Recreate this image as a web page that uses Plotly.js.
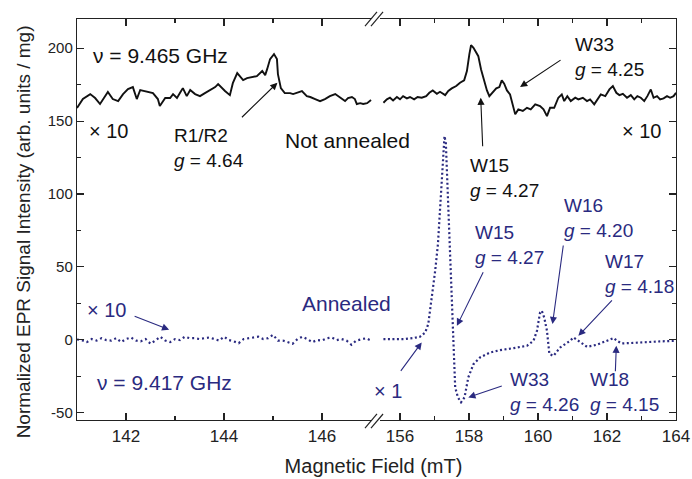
<!DOCTYPE html>
<html>
<head>
<meta charset="utf-8">
<script src="https://cdn.plot.ly/plotly-3.0.1.min.js"></script>
<style>html,body{margin:0;padding:0;background:#fff;}#chart{width:692px;height:479px;}</style>
</head>
<body>
<div id="chart"></div>
<script>
// ---------- DATA ----------
// Not annealed (x10), low-field part
const fieldNotAnnLow = [141.00,141.12,141.27,141.37,141.47,141.57,141.63,141.73,141.84,141.94,142.04,142.14,142.22,142.29,142.43,142.55,142.65,142.69,142.80,142.90,142.96,143.04,143.10,143.16,143.24,143.31,143.41,143.51,143.61,143.71,143.82,143.88,143.96,144.02,144.12,144.18,144.27,144.33,144.39,144.47,144.57,144.67,144.78,144.84,144.88,144.94,145.02,145.08,145.10,145.16,145.24,145.35,145.41,145.51,145.59,145.69,145.76,145.86,145.96,146.06,146.16,146.27,146.33,146.41,146.47,146.53,146.61,146.67,146.71,146.78,146.84,146.92,147.00];
const signalNotAnnLow = [158.9,165.1,168.5,165.8,161.7,167.1,169.9,165.1,163.7,168.5,171.9,173.3,165.1,171.3,169.9,169.2,165.1,160.3,165.8,165.8,168.5,165.8,169.2,172.6,167.1,171.3,168.5,167.1,169.2,171.3,173.3,175.4,172.6,170.6,167.8,176.0,182.9,180.8,178.1,179.5,180.2,180.8,184.3,181.5,185.6,192.5,195.9,192.5,182.2,172.6,169.2,169.2,168.5,169.9,170.6,167.1,166.5,165.1,163.7,165.1,167.1,168.5,167.1,165.1,163.7,165.8,166.5,165.1,161.7,162.3,161.7,162.3,164.4];
// Not annealed (x10), high-field part
const fieldNotAnnHigh = [155.52,155.62,155.71,155.80,155.91,156.00,156.09,156.20,156.29,156.41,156.51,156.63,156.76,156.85,156.95,157.07,157.16,157.31,157.40,157.50,157.63,157.74,157.86,157.94,158.01,158.06,158.13,158.21,158.27,158.35,158.44,158.52,158.59,158.69,158.79,158.88,158.95,159.02,159.10,159.19,159.27,159.34,159.43,159.56,159.68,159.79,159.92,160.06,160.16,160.26,160.35,160.47,160.59,160.69,160.76,160.85,160.95,161.08,161.17,161.30,161.42,161.51,161.63,161.72,161.82,161.95,162.07,162.17,162.27,162.36,162.46,162.58,162.69,162.79,162.88,162.98,163.08,163.17,163.27,163.35,163.45,163.54,163.64,163.74,163.83,163.93,164.00];
const signalNotAnnHigh = [162.6,164.9,166.0,164.2,166.5,164.9,167.1,165.6,166.5,164.9,166.5,166.0,167.1,169.4,171.0,168.7,170.1,167.8,170.6,172.4,174.0,176.3,177.9,184.3,195.7,202.1,200.2,196.8,194.5,185.4,177.4,171.0,167.1,170.1,172.4,173.3,177.9,175.6,171.0,168.3,161.5,154.6,158.0,156.9,159.1,158.0,161.5,160.3,158.0,153.4,159.1,159.1,166.0,168.3,163.7,167.1,163.7,166.0,164.9,166.0,163.7,164.9,161.5,164.9,168.3,167.1,171.7,174.0,169.4,167.8,168.7,166.0,167.8,164.9,167.1,166.0,163.7,167.1,171.7,166.0,167.1,164.9,165.6,167.1,166.0,167.1,169.4];
// Annealed, low-field part (x10)
const fieldAnnLow = [141.0,141.1,141.2,141.3,141.4,141.5,141.6,141.7,141.8,141.9,142.0,142.1,142.2,142.3,142.4,142.5,142.6,142.7,142.8,142.9,143.0,143.1,143.2,143.3,143.4,143.5,143.6,143.7,143.8,143.9,144.0,144.1,144.2,144.3,144.4,144.5,144.6,144.7,144.8,144.9,145.0,145.1,145.2,145.3,145.4,145.5,145.6,145.7,145.8,145.9,146.0,146.1,146.2,146.3,146.4,146.5,146.6,146.7,146.8,146.9,147.0];
const signalAnnLow = [0.2,-0.2,-1.6,0.5,-0.5,1.1,-0.2,-0.5,1.1,-1.6,0.5,1.6,-0.5,-1.1,0.5,-2.7,-0.5,2.1,-0.5,-1.6,0.5,-0.2,2.1,1.1,1.1,0.5,1.1,1.6,0.5,-0.5,2.1,-0.2,-1.1,-2.3,0.5,1.1,1.6,2.1,0.5,1.1,3.4,-0.5,-0.5,-1.6,-2.7,0.5,2.1,0.5,-1.6,-0.2,-0.5,1.1,1.6,-0.2,0.5,-0.5,-3.4,-0.5,0.5,1.1,-0.5];
// Annealed, high-field part (x1)
const fieldAnnHigh = [155.52,155.81,156.10,156.39,156.58,156.73,156.82,156.87,156.94,157.02,157.10,157.16,157.21,157.26,157.29,157.33,157.40,157.48,157.55,157.60,157.68,157.77,157.87,157.98,158.13,158.32,158.61,158.90,159.29,159.68,159.87,159.97,160.06,160.11,160.18,160.26,160.33,160.45,160.64,160.93,161.03,161.22,161.42,161.71,162.00,162.19,162.29,162.43,162.77,163.16,163.54,163.97];
const signalAnnHigh = [0.5,0.5,0.5,1.2,2.1,4.9,10.8,19.9,31.3,47.3,65.6,88.4,111.2,129.5,139.7,134.5,88.4,42.7,-3.0,-32.7,-39.5,-42.9,-39.5,-25.8,-16.7,-12.1,-8.7,-7.1,-5.7,-4.1,-0.7,6.2,18.7,19.9,15.3,6.2,-9.8,-11.0,-5.3,-0.7,1.6,-1.8,-4.8,-3.4,-0.7,1.2,-0.7,-2.5,-2.1,-1.4,-1.1,-0.7];

const lowTicks = [142,144,146];
const highTicks = [156,158,160,162,164];
const yTicks = [-50,0,50,100,150,200];

// ---------- STYLE ----------
const BLACK = '#111111';
const BLUE = '#2a2a80';
const FONT = '"Liberation Sans", Arial, Helvetica, sans-serif';

const traces = [
  {x: fieldNotAnnLow, y: signalNotAnnLow, xaxis:'x', yaxis:'y', mode:'lines', line:{color:BLACK, width:1.9}, hoverinfo:'skip'},
  {x: fieldNotAnnHigh, y: signalNotAnnHigh, xaxis:'x2', yaxis:'y2', mode:'lines', line:{color:BLACK, width:1.9}, hoverinfo:'skip'},
  {x: fieldAnnLow, y: signalAnnLow, xaxis:'x', yaxis:'y', mode:'lines', line:{color:BLUE, width:2.2, dash:'2px,3px'}, hoverinfo:'skip'},
  {x: fieldAnnHigh, y: signalAnnHigh, xaxis:'x2', yaxis:'y2', mode:'lines', line:{color:BLUE, width:2.2, dash:'2px,2.5px'}, hoverinfo:'skip'},
  // carrier for the shared axis titles spanning the broken axis
  {x:[null], y:[null], xaxis:'x3', yaxis:'y3', mode:'lines', hoverinfo:'skip', showlegend:false}
];

const axCommon = {
  showline:true, linecolor:'#222', linewidth:1.2, showgrid:false, zeroline:false,
  ticks:'inside', ticklen:7, tickwidth:1.1, tickcolor:'#222',
  tickfont:{family:FONT, size:17, color:'#222'}
};

function txt(x, y, xref, text, color, size, anchor) {
  return {x:x, y:y, xref:xref, yref: xref==='x' ? 'y' : 'y2', text:text, showarrow:false,
    xanchor: anchor || 'left', yanchor:'middle', align: anchor || 'left',
    font:{family:FONT, size:size, color:color}};
}
function arrow(x, y, xref, ax, ay, color) {
  return {x:x, y:y, xref:xref, yref: xref==='x' ? 'y' : 'y2', ax:ax, ay:ay, text:'', showarrow:true,
    arrowhead:2, arrowsize:1.3, arrowwidth:1.1, arrowcolor:color, standoff:0};
}

const annotations = [
  // black (not annealed)
  txt(141.29, 195.2, 'x', '\u03bd = 9.465 GHz', BLACK, 21),
  txt(141.20, 143.2, 'x', '\u00d7 10', BLACK, 20),
  txt(142.94, 131.5, 'x', 'R1/R2<br><i>g</i> = 4.64', BLACK, 19),
  txt(145.20, 137.0, 'x', 'Not annealed', BLACK, 21),
  txt(163.63, 143.5, 'x2', '\u00d7 10', BLACK, 20, 'right'),
  txt(161.02, 194.2, 'x2', 'W33<br><i>g</i> = 4.25', BLACK, 19),
  txt(157.98, 111.0, 'x2', 'W15<br><i>g</i> = 4.27', BLACK, 19),
  arrow(145.09, 176.3, 'x', -37, 36, BLACK),
  arrow(159.48, 173.3, 'x2', 42, -28, BLACK),
  arrow(158.34, 166.0, 'x2', 2, 50, BLACK),
  // blue (annealed)
  txt(145.55, 24.7, 'x', 'Annealed', BLUE, 21),
  txt(141.16, 20.6, 'x', '\u00d7 10', BLUE, 20),
  txt(141.37, -29.5, 'x', '\u03bd = 9.417 GHz', BLUE, 21),
  {x:0.4925, y:-34.9, xref:'paper', yref:'y2', text:'\u00d7 1', showarrow:false, xanchor:'left', yanchor:'middle',
    font:{family:FONT, size:20, color:BLUE}},
  txt(160.70, 83.8, 'x2', 'W16<br><i>g</i> = 4.20', BLUE, 19),
  txt(158.12, 64.7, 'x2', 'W15<br><i>g</i> = 4.27', BLUE, 19),
  txt(161.89, 45.2, 'x2', 'W17<br><i>g</i> = 4.18', BLUE, 19),
  txt(159.14, -35.6, 'x2', 'W33<br><i>g</i> = 4.26', BLUE, 19),
  txt(161.45, -35.6, 'x2', 'W18<br><i>g</i> = 4.15', BLUE, 19),
  arrow(142.88, 6.9, 'x', -36, -14, BLUE),
  arrow(156.63, -1.8, 'x2', -22, 30, BLUE),
  arrow(157.65, 9.6, 'x2', 27, -55, BLUE),
  arrow(160.42, 10.8, 'x2', 11, -80, BLUE),
  arrow(161.17, 2.7, 'x2', 35, -37, BLUE),
  arrow(157.98, -39.5, 'x2', 35, -12, BLUE),
  arrow(162.27, -4.1, 'x2', -1, 27, BLUE)
];

// axis-break marks (paper coords)
const brk = (x0, y0, x1, y1) => ({type:'line', xref:'paper', yref:'paper', x0:x0, y0:y0, x1:x1, y1:y1, line:{color:'#222', width:1.2}});
const shapes = [
  brk(0.4808, -0.020, 0.5008, 0.015), brk(0.4908, -0.020, 0.5109, 0.015),
  brk(0.4808, 0.9825, 0.5008, 1.0175), brk(0.4908, 0.9825, 0.5109, 1.0175)
];

const layout = {
  width:692, height:479,
  margin:{l:77, r:16, t:19, b:59},
  paper_bgcolor:'#ffffff', plot_bgcolor:'rgba(0,0,0,0)',
  showlegend:false,
  font:{family:FONT, color:'#222'},
  xaxis: Object.assign({}, axCommon, {domain:[0, 0.4925], range:[141, 147.02], anchor:'y',
    tickmode:'array', tickvals:lowTicks, ticktext:lowTicks.map(String), mirror:'ticks',
    minor:{tickmode:'linear', tick0:141, dtick:1, ticks:'inside', ticklen:4, tickcolor:'#222'}}),
  xaxis2: Object.assign({}, axCommon, {domain:[0.5058, 1], range:[155.42, 164], anchor:'y2',
    tickmode:'array', tickvals:highTicks, ticktext:highTicks.map(String), mirror:'ticks',
    minor:{tickmode:'linear', tick0:155, dtick:1, ticks:'inside', ticklen:4, tickcolor:'#222'}}),
  xaxis3: {domain:[0,0.99], anchor:'y3', range:[0,1], showline:false, showgrid:false, zeroline:false,
    ticks:'', showticklabels:false, fixedrange:true,
    title:{text:'Magnetic Field (mT)', font:{family:FONT, size:20, color:'#222'}, standoff:38}},
  yaxis: Object.assign({}, axCommon, {range:[-55, 220], anchor:'x', side:'left',
    tickmode:'array', tickvals:yTicks, ticktext:yTicks.map(String),
    tickfont:{family:FONT, size:15, color:'#222'},
    minor:{tickmode:'linear', tick0:-25, dtick:50, ticks:'inside', ticklen:4, tickcolor:'#222'}}),
  yaxis2: Object.assign({}, axCommon, {range:[-55, 220], anchor:'x2', side:'right', matches:'y',
    tickmode:'array', tickvals:yTicks, showticklabels:false,
    minor:{tickmode:'linear', tick0:-25, dtick:50, ticks:'inside', ticklen:4, tickcolor:'#222'}}),
  yaxis3: {domain:[0, 0.938], anchor:'x3', side:'left', range:[0,1], showline:false, showgrid:false, zeroline:false,
    ticks:'', showticklabels:false, fixedrange:true,
    title:{text:'Normalized EPR Signal Intensity (arb. units / mg)', font:{family:FONT, size:19, color:'#222'}, standoff:40}},
  annotations: annotations,
  shapes: shapes
};

Plotly.newPlot('chart', traces, layout, {displayModeBar:false, staticPlot:true});
</script>
</body>
</html>
